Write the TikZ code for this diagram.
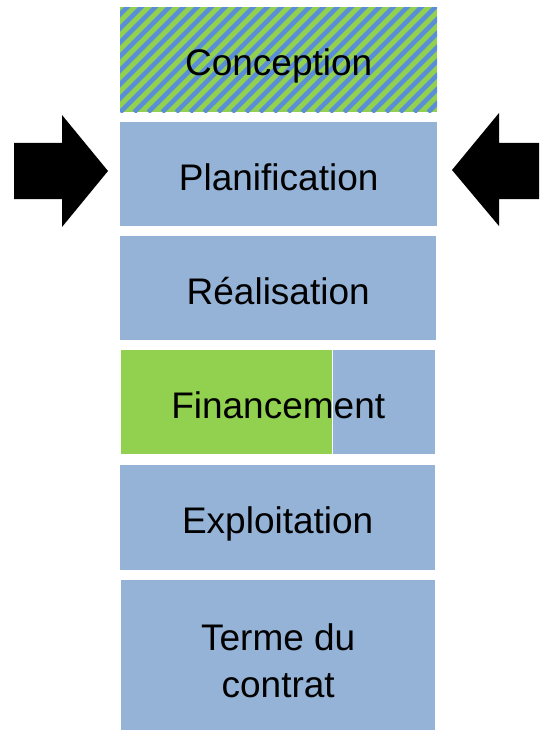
\documentclass[tikz,border=0pt]{standalone}
\usepackage{fontspec}
\setmainfont{Liberation Sans}
\definecolor{boxblue}{HTML}{95B3D7}
\definecolor{boxgreen}{HTML}{92D050}
\definecolor{stripeblue}{HTML}{5A8FD8}
\begin{document}
\begin{tikzpicture}[x=1pt,y=-1pt,
  stage/.style={fill=boxblue, minimum width=316pt, minimum height=104pt,
    inner sep=0pt, anchor=north west},
  txt/.style={font=\fontsize{37}{47}\selectfont, align=center, inner sep=0pt, yshift=-5.5pt},
  oneline/.style={txt, text height=27pt, text depth=8pt, yshift=-1pt},
  striped/.style={path picture={
    \fill[boxgreen] (path picture bounding box.south west) rectangle (path picture bounding box.north east);
    \foreach \i in {-126,-112,...,330}
      \draw[stripeblue, line width=4.6pt] ([xshift=\i pt]path picture bounding box.south west) -- ++(120,-120);}},
  halfgreen/.style={path picture={
    \fill[boxgreen] (path picture bounding box.south west) rectangle ([xshift=#1]path picture bounding box.north west);
    \draw[white, line width=0.8pt] ([xshift=#1]path picture bounding box.south west) -- ([xshift=#1]path picture bounding box.north west);}},
  bigarrow/.style={fill=black}]
\useasboundingbox (0,0) rectangle (539,730);
\node[stage, striped, minimum width=317pt, minimum height=105pt,
  label={[oneline]center:Conception}] (con) at (120,7) {};
\node[stage, minimum width=317pt,
  label={[oneline]center:Planification}] (pla) at (120,122) {};
\node[stage, label={[oneline]center:Réalisation}] (rea) at (120,236) {};
\node[stage, halfgreen=211pt, minimum width=314pt,
  label={[oneline]center:Financement}] (fin) at (121,350) {};
\node[stage, minimum width=315pt, minimum height=105pt,
  label={[oneline]center:Exploitation}] (exp) at (120,465) {};
\node[stage, minimum width=314pt, minimum height=150pt,
  label={[txt]center:Terme du\\contrat}] (ter) at (121,580) {};
% arrows pointing at Planification
\fill[bigarrow] (14,143) -- (62,143) -- (62,115) -- (108,171) -- (62,227) -- (62,199) -- (14,199) -- cycle;
\fill[bigarrow] (539,143) -- (499,143) -- (499,113) -- (452,170) -- (499,226) -- (499,199) -- (539,199) -- cycle;
\end{tikzpicture}
\end{document}
